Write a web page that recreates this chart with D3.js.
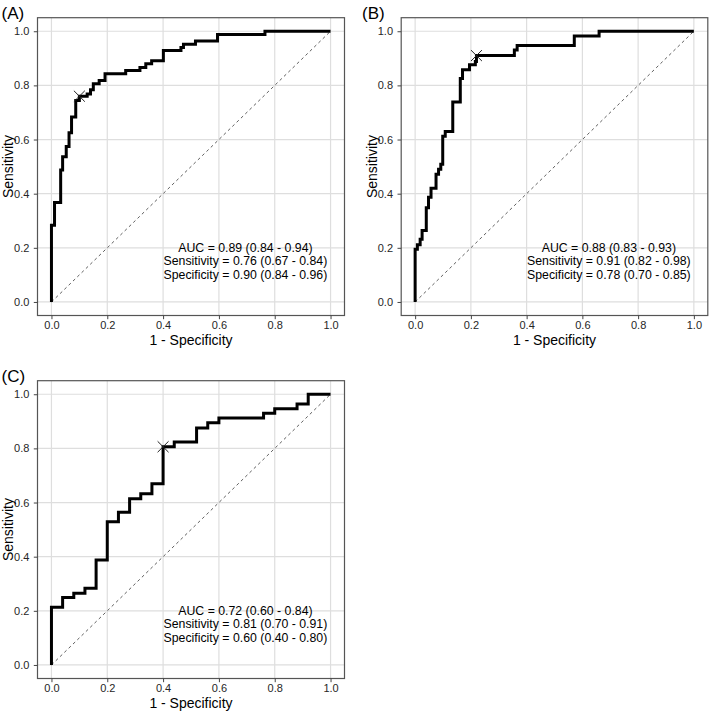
<!DOCTYPE html>
<html>
<head>
<meta charset="utf-8">
<script src="https://cdn.jsdelivr.net/npm/d3@7"></script>
<style>
  html, body { margin: 0; padding: 0; background: #fff; }
  svg { display: block; font-family: "Liberation Sans", Arial, sans-serif; }
</style>
</head>
<body>
<svg id="chart" width="709" height="712"></svg>
<script>
// ---------- data ----------
const panelLabels = ["(A)", "(B)", "(C)"];
const tickValues = [0, 0.2, 0.4, 0.6, 0.8, 1.0];
const tickLabels = ["0.0", "0.2", "0.4", "0.6", "0.8", "1.0"];

// step ROC curves: each level tpr[i] holds until fpr[i]
const A_fpr = [0.011,0.033,0.040,0.053,0.063,0.072,0.087,0.100,0.128,0.140,0.150,0.171,0.192,0.266,0.317,0.338,0.359,0.401,0.464,0.473,0.516,0.595,0.765,1.0];
const A_tpr = [0.283,0.367,0.487,0.536,0.574,0.625,0.683,0.744,0.760,0.768,0.784,0.806,0.818,0.843,0.855,0.866,0.880,0.891,0.929,0.940,0.952,0.964,0.988,1.0];

const B_fpr = [0.008,0.018,0.025,0.040,0.048,0.057,0.075,0.084,0.092,0.099,0.108,0.135,0.162,0.170,0.195,0.216,0.220,0.356,0.366,0.571,0.660,1.0];
const B_tpr = [0.195,0.211,0.232,0.264,0.348,0.387,0.420,0.472,0.490,0.509,0.612,0.630,0.739,0.825,0.858,0.876,0.888,0.910,0.931,0.947,0.982,1.0];

const C_fpr = [0.04,0.08,0.12,0.16,0.20,0.24,0.28,0.32,0.36,0.40,0.44,0.52,0.56,0.60,0.76,0.80,0.88,0.92,1.0];
const C_tpr = [0.213,0.249,0.265,0.283,0.388,0.529,0.564,0.614,0.632,0.669,0.806,0.824,0.875,0.895,0.912,0.930,0.946,0.964,1.0];

// best cut-off points [1 - specificity, sensitivity]
const A_cut = [0.10, 0.76];
const B_cut = [0.22, 0.91];
const C_cut = [0.40, 0.806];

const A_text = ["AUC = 0.89 (0.84 - 0.94)", "Sensitivity = 0.76 (0.67 - 0.84)", "Specificity = 0.90 (0.84 - 0.96)"];
const B_text = ["AUC = 0.88 (0.83 - 0.93)", "Sensitivity = 0.91 (0.82 - 0.98)", "Specificity = 0.78 (0.70 - 0.85)"];
const C_text = ["AUC = 0.72 (0.60 - 0.84)", "Sensitivity = 0.81 (0.70 - 0.91)", "Specificity = 0.60 (0.40 - 0.80)"];

const xTitle = "1 - Specificity";
const yTitle = "Sensitivity";

// ---------- layout ----------
const panels = [
  { label: panelLabels[0], fpr: A_fpr, tpr: A_tpr, cut: A_cut, text: A_text, left: 37.5, right: 344.5, top: 17.7, bottom: 315.5, lx: 1.5 },
  { label: panelLabels[1], fpr: B_fpr, tpr: B_tpr, cut: B_cut, text: B_text, left: 401.2, right: 707.8, top: 17.7, bottom: 315.5, lx: 362 },
  { label: panelLabels[2], fpr: C_fpr, tpr: C_tpr, cut: C_cut, text: C_text, left: 37.5, right: 344.5, top: 380.7, bottom: 678.5, lx: 1.5 }
];

const svg = d3.select("#chart");
const FONT = "'Liberation Sans', Arial, sans-serif";

panels.forEach(p => {
  const x = d3.scaleLinear().domain([-0.05, 1.05]).range([p.left, p.right]);
  const y = d3.scaleLinear().domain([-0.05, 1.05]).range([p.bottom, p.top]);
  const g = svg.append("g");

  // grid
  g.selectAll(".gx").data(tickValues).join("line")
    .attr("x1", d => x(d)).attr("x2", d => x(d))
    .attr("y1", p.top).attr("y2", p.bottom)
    .attr("stroke", "#dedede").attr("stroke-width", 1.2);
  g.selectAll(".gy").data(tickValues).join("line")
    .attr("y1", d => y(d)).attr("y2", d => y(d))
    .attr("x1", p.left).attr("x2", p.right)
    .attr("stroke", "#dedede").attr("stroke-width", 1.2);

  // diagonal reference
  g.append("line")
    .attr("x1", x(0)).attr("y1", y(0)).attr("x2", x(1)).attr("y2", y(1))
    .attr("stroke", "#606060").attr("stroke-width", 1)
    .attr("stroke-dasharray", "3,3");

  // ROC curve
  const pts = [[0, 0]].concat(p.fpr.map((f, i) => [f, p.tpr[i]]));
  const line = d3.line().x(d => x(d[0])).y(d => y(d[1])).curve(d3.curveStepBefore);
  g.append("path").datum(pts)
    .attr("d", line)
    .attr("fill", "none").attr("stroke", "#000").attr("stroke-width", 3)
    .attr("stroke-linejoin", "miter").attr("stroke-linecap", "butt");

  // cutoff marker
  g.append("path")
    .attr("transform", `translate(${x(p.cut[0])},${y(p.cut[1])})`)
    .attr("d", d3.symbol().type(d3.symbolX).size(80)())
    .attr("fill", "none").attr("stroke", "#222").attr("stroke-width", 1);

  // annotation
  p.text.forEach((t, i) => {
    g.append("text")
      .attr("x", x(0.695)).attr("y", y(0.2 - i * 0.049))
      .attr("dy", "0.35em")
      .attr("text-anchor", "middle")
      .attr("font-size", 12.3)
      .attr("font-family", FONT)
      .attr("fill", "#000")
      .text(t);
  });

  // border
  g.append("rect")
    .attr("x", p.left).attr("y", p.top)
    .attr("width", p.right - p.left).attr("height", p.bottom - p.top)
    .attr("fill", "none").attr("stroke", "#555").attr("stroke-width", 1.2);

  // axes
  const xAxis = d3.axisBottom(x).tickValues(tickValues).tickFormat((d, i) => tickLabels[i]).tickSize(3.7).tickPadding(2);
  const yAxis = d3.axisLeft(y).tickValues(tickValues).tickFormat((d, i) => tickLabels[i]).tickSize(3.7).tickPadding(4.5);
  const ax = g.append("g").attr("transform", `translate(0,${p.bottom})`).call(xAxis);
  const ay = g.append("g").attr("transform", `translate(${p.left},0)`).call(yAxis);
  [ax, ay].forEach(a => {
    a.select(".domain").remove();
    a.attr("font-family", FONT).attr("font-size", 11);
    a.selectAll(".tick line").attr("stroke", "#444").attr("stroke-width", 1);
    a.selectAll(".tick text").attr("fill", "#262626");
  });

  // axis titles
  g.append("text")
    .attr("x", (p.left + p.right) / 2).attr("y", p.bottom + 29.3)
    .attr("text-anchor", "middle").attr("font-size", 14).attr("font-family", FONT).attr("fill", "#000")
    .text(xTitle);
  g.append("text")
    .attr("transform", `translate(${p.left - 24.7},${(p.top + p.bottom) / 2}) rotate(-90)`)
    .attr("text-anchor", "middle").attr("font-size", 14).attr("font-family", FONT).attr("fill", "#000")
    .text(yTitle);

  // panel label
  g.append("text")
    .attr("x", p.lx).attr("y", p.top + 0.8)
    .attr("font-size", 17).attr("font-family", FONT).attr("fill", "#000")
    .text(p.label);
});
</script>
</body>
</html>
